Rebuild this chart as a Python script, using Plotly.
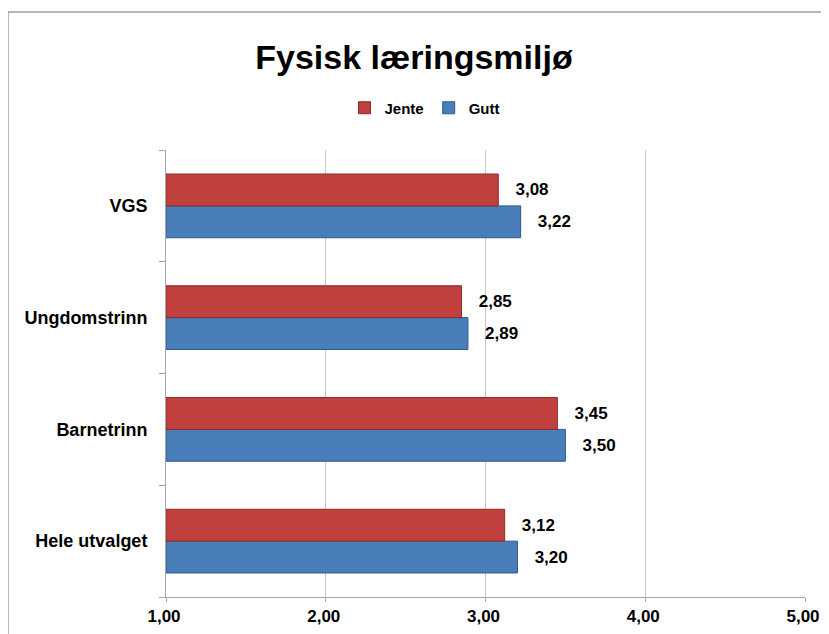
import plotly.graph_objects as go

categories = ["Hele utvalget", "Barnetrinn", "Ungdomstrinn", "VGS"]
jente = [3.12, 3.45, 2.85, 3.08]
gutt = [3.20, 3.50, 2.89, 3.22]
x_ticks = [1, 2, 3, 4, 5]
x_tick_labels = ["1,00", "2,00", "3,00", "4,00", "5,00"]

FONT = "Liberation Sans, Arial, sans-serif"

def fmt(v):
    return "   <b>" + f"{v:.2f}".replace(".", ",") + "</b>"

fig = go.Figure()
fig.add_trace(go.Bar(
    y=categories, x=[v - 1 for v in gutt], base=1, orientation="h", name="<b>Gutt</b>",
    marker=dict(color="#4A7EBB", line=dict(color="#2C5A8F", width=1)),
    text=[fmt(v) for v in gutt], textposition="outside", cliponaxis=False,
    textfont=dict(family=FONT, size=17, color="black"), legendrank=2,
    hoverinfo="skip",
))
fig.add_trace(go.Bar(
    y=categories, x=[v - 1 for v in jente], base=1, orientation="h", name="<b>Jente</b>",
    marker=dict(color="#C0403D", line=dict(color="#8E2A28", width=1)),
    text=[fmt(v) for v in jente], textposition="outside", cliponaxis=False,
    textfont=dict(family=FONT, size=17, color="black"), legendrank=1,
    hoverinfo="skip",
))

# page has an 8px body margin, so the figure sits at (8, 8)
OFF = 8
W, H = 829 - OFF, 634 - OFF
ml = 166 - OFF
mt = 150 - OFF
mr = W - (805 - OFF)
mb = H - (597 - OFF)
pw, ph = W - ml - mr, H - mt - mb

fig.update_layout(
    width=W, height=H,
    margin=dict(l=ml, r=mr, t=mt, b=mb, pad=0, autoexpand=False),
    paper_bgcolor="white", plot_bgcolor="white",
    barmode="group", bargap=0.43, bargroupgap=0,
    title=dict(text="<b>Fysisk læringsmiljø</b>", x=(414 - OFF) / W, xanchor="center",
               xref="container", y=1 - (57 - OFF) / H, yanchor="middle",
               font=dict(family=FONT, size=34, color="black")),
    legend=dict(orientation="h", x=(425 - OFF - ml) / pw, xanchor="center",
                y=(H - mb - (108 - OFF)) / ph, yanchor="middle", yref="paper",
                font=dict(family=FONT, size=15, color="black"),
                itemwidth=30, tracegroupgap=0, traceorder="normal"),
    font=dict(family=FONT, color="black"),
    xaxis=dict(range=[1, 5], tickvals=x_ticks, ticktext=["<b>%s</b>" % t for t in x_tick_labels],
               showgrid=True, gridcolor="#C8C8C8", gridwidth=1,
               showline=True, linecolor="#A6A6A6", linewidth=1,
               ticks="outside", ticklen=4, tickcolor="#A6A6A6",
               tickfont=dict(family=FONT, size=17, color="black"),
               ticklabeloverflow="allow", ticklabelshift=-2,
               zeroline=False, fixedrange=True, automargin=False),
    yaxis=dict(categoryorder="array", categoryarray=categories,
               tickvals=categories, ticktext=["<b>%s</b>" % c for c in categories],
               showline=True, linecolor="#A6A6A6", linewidth=1,
               ticks="outside", ticklen=6, tickcolor="#A6A6A6", tickson="boundaries",
               tickfont=dict(family=FONT, size=18, color="black"),
               showgrid=False, zeroline=False, fixedrange=True, automargin=False,
               ticklabelstandoff=14),
    showlegend=True,
)

# chart frame (left and top edges visible)
fig.add_shape(type="rect", xref="paper", yref="paper",
              x0=(0 - ml) / pw, x1=(W + 5 - ml) / pw,
              y0=(H - mb - (H + 5)) / ph, y1=(H - mb - (12 - OFF)) / ph,
              line=dict(color="#A0A0A0", width=1.5), layer="below")

fig.write_html("out.html")
